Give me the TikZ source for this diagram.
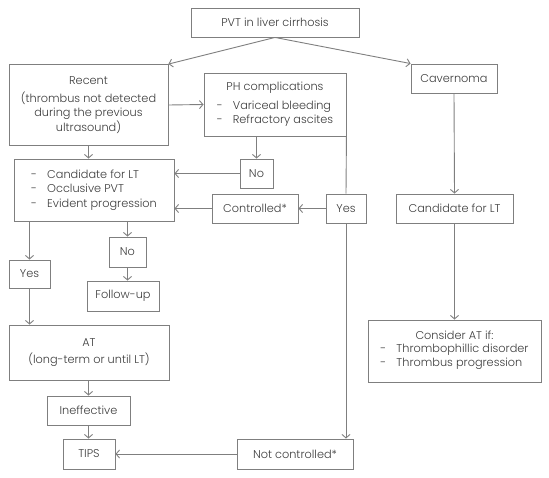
\documentclass[tikz,border=0pt]{standalone}
\usepackage{fontspec}
\setmainfont{Poppins Light}
\usetikzlibrary{arrows.meta}
\definecolor{txtc}{HTML}{3C3C3C}
\definecolor{linec}{HTML}{7F7F7F}
\newcommand{\dsh}[1]{\makebox[16pt][l]{-}#1}
\tikzset{
  box/.style={draw=linec, line width=0.9pt, inner sep=0pt, text=txtc,
    font=\fontsize{11.3}{14.5}\selectfont, align=center},
  arr/.style={draw=linec, line width=0.9pt, -{Straight Barb[length=3.5pt,width=8pt]}},
  plain/.style={draw=linec, line width=0.9pt},
}
\begin{document}
\begin{tikzpicture}[x=1pt,y=-1pt]
\useasboundingbox (0,0) rectangle (549,477);
\node[box, minimum width=168pt, minimum height=29pt] (pvt) at (275,22.5) {PVT in liver cirrhosis};
\node[box, minimum width=159pt, minimum height=81pt] (recent) at (88.5,105) {Recent\\[3pt](thrombus not detected\\during the previous\\ultrasound)};
\node[box, minimum width=142pt, minimum height=63pt] (ph) at (275,104.5) {PH complications\\[5pt]\begin{tabular}{@{}l@{}}\dsh{Variceal bleeding}\\[-0.5pt]\dsh{Refractory ascites}\end{tabular}};
\node[box, minimum width=86pt, minimum height=29pt] (cav) at (454,78.5) {Cavernoma};
\node[box, minimum width=160pt, minimum height=62pt, align=left] (cand) at (94,190) {\dsh{Candidate for LT}\\\dsh{Occlusive PVT}\\\dsh{Evident progression}};
\node[box, minimum width=33pt, minimum height=29pt] (no1) at (256.5,173.5) {No};
\node[box, minimum width=86pt, minimum height=29pt] (ctrl) at (255,208.5) {Controlled*};
\node[box, minimum width=40pt, minimum height=29pt] (yes1) at (346,208.5) {Yes};
\node[box, minimum width=117pt, minimum height=29pt] (candR) at (454.5,208.5) {Candidate for LT};
\node[box, minimum width=41pt, minimum height=28pt] (yes2) at (29.5,274) {Yes};
\node[box, minimum width=37pt, minimum height=30pt] (no2) at (127.5,252) {No};
\node[box, minimum width=72pt, minimum height=30pt] (fu) at (123,296) {Follow-up};
\node[box, minimum width=160pt, minimum height=55pt] (at) at (89,352.5) {AT\\[2pt](long-term or until LT)};
\node[box, minimum width=83pt, minimum height=29pt] (ineff) at (88.5,410.5) {Ineffective};
\node[box, minimum width=52pt, minimum height=30pt] (tips) at (89,454) {TIPS};
\node[box, minimum width=116pt, minimum height=30pt] (notc) at (295,454) {Not controlled*};
\node[box, minimum width=173pt, minimum height=62pt] (cons) at (454.5,351) {Consider AT if:\\[1.5pt]\begin{tabular}{@{}l@{}}\dsh{Thrombophillic disorder}\\[-0.5pt]\dsh{Thrombus progression}\end{tabular}};
% connectors
\draw[arr] (pvt.south) -- (recent.north east);
\draw[arr] (pvt.south) -- (cav.north west);
\draw[arr] (recent.east) -- (ph.west);
\draw[arr] (recent.south) -- (recent.south |- cand.north);
\draw[arr] (ph.south -| no1.north) -- (no1.north);
\draw[arr] (no1.west) -- (no1.west -| cand.east);
\draw[arr] (ctrl.west) -- (ctrl.west -| cand.east);
\draw[arr] (yes1.west) -- (ctrl.east);
\draw[plain] (ph.south east) -- (yes1.north);
\draw[arr] (yes1.south) -- (yes1.south |- notc.north);
\draw[arr] (cav.south) -- (candR.north);
\draw[arr] (candR.south) -- (cons.north);
\draw[arr] (cand.south -| yes2.north) -- (yes2.north);
\draw[arr] (cand.south -| no2.north) -- (no2.north);
\draw[arr] (no2.south) -- (no2.south |- fu.north);
\draw[arr] (yes2.south) -- (yes2.south |- at.north);
\draw[arr] (at.south -| ineff.north) -- (ineff.north);
\draw[arr] (ineff.south) -- (ineff.south |- tips.north);
\draw[arr] (notc.west) -- (tips.east);
\end{tikzpicture}
\end{document}
